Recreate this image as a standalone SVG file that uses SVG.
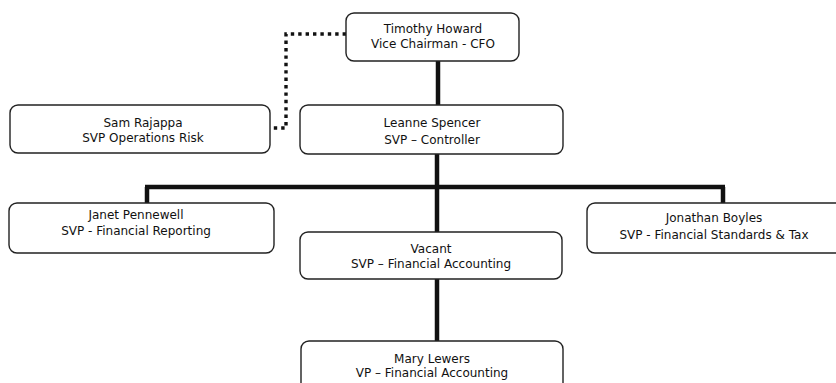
<svg xmlns="http://www.w3.org/2000/svg" width="836" height="383" viewBox="0 0 836 383">
<style>
.box{fill:#fff;stroke:#222;stroke-width:1.4}
.t{font-family:"DejaVu Sans",Verdana,sans-serif;font-size:12px;fill:#111;text-anchor:middle}
.solid{stroke:#111;stroke-width:4.5;fill:none}
.dot{stroke:#111;stroke-width:3.4;fill:none;stroke-dasharray:3.4 4}
</style>
<rect width="836" height="383" fill="#fff"/>
<g id="connectors">
<path class="dot" d="M346 34 H286 V128 H271"/>
<path class="solid" d="M438 61 V105"/>
<path class="solid" d="M437 154 V232"/>
<path class="solid" d="M145 187 H725"/>
<path class="solid" d="M147 187 V203"/>
<path class="solid" d="M723 187 V203"/>
<path class="solid" d="M437 279 V341"/>
</g>
<g id="timothy">
<rect class="box" x="346" y="13" width="173" height="48" rx="8"/>
<text class="t" x="433" y="33">Timothy Howard</text>
<text class="t" x="433" y="48">Vice Chairman - CFO</text>
</g>
<g id="sam">
<rect class="box" x="10" y="105" width="260" height="48" rx="8"/>
<text class="t" x="143" y="127">Sam Rajappa</text>
<text class="t" x="143" y="142">SVP Operations Risk</text>
</g>
<g id="leanne">
<rect class="box" x="300" y="105" width="263" height="49" rx="8"/>
<text class="t" x="432" y="127">Leanne Spencer</text>
<text class="t" x="432" y="144">SVP – Controller</text>
</g>
<g id="janet">
<rect class="box" x="9" y="203" width="265" height="50" rx="8"/>
<text class="t" x="136" y="219">Janet Pennewell</text>
<text class="t" x="136" y="235">SVP - Financial Reporting</text>
</g>
<g id="jonathan">
<rect class="box" x="587" y="203" width="272" height="50" rx="8"/>
<text class="t" x="714" y="222">Jonathan Boyles</text>
<text class="t" x="714" y="239">SVP - Financial Standards &amp; Tax</text>
</g>
<g id="vacant">
<rect class="box" x="300" y="232" width="262" height="47" rx="8"/>
<text class="t" x="431" y="253">Vacant</text>
<text class="t" x="431" y="268">SVP – Financial Accounting</text>
</g>
<g id="mary">
<rect class="box" x="301" y="341" width="262" height="50" rx="8"/>
<text class="t" x="432" y="363">Mary Lewers</text>
<text class="t" x="432" y="377">VP – Financial Accounting</text>
</g>
</svg>
